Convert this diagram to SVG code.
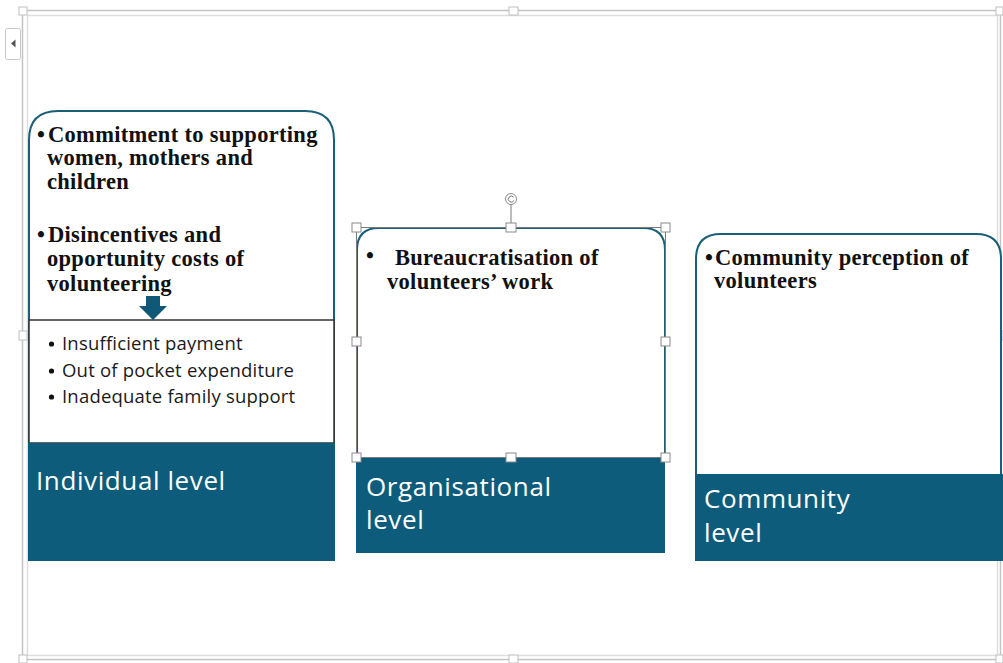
<svg xmlns="http://www.w3.org/2000/svg" width="1003" height="663" viewBox="0 0 1003 663">
  <style>
    .frame { fill: none; stroke: #c4c4c4; stroke-width: 1.5; }
    .frame2 { fill: none; stroke: #dedede; stroke-width: 1.5; }
    .card { fill: #ffffff; stroke: #1a5e78; stroke-width: 2; }
    .band { fill: #0d5c7b; }
    .band-text { font-family: "Open Sans", "Liberation Sans", sans-serif; font-size: 26px; letter-spacing: 0.6px; fill: #ffffff; }
    .head { font-family: "Liberation Serif", "Times New Roman", serif; font-size: 22.5px; letter-spacing: 0.3px; font-weight: bold; fill: #111111; }
    .list { font-family: "Open Sans", "Liberation Sans", sans-serif; font-size: 18.5px; letter-spacing: 0.2px; fill: #1a1a1a; }
    .dot { fill: #111111; }
    .handle { fill: #ffffff; stroke: #8a8a8a; stroke-width: 1; }
    .fhandle { fill: #ffffff; stroke: #c0c0c0; stroke-width: 1; }
  </style>

  <rect width="1003" height="663" fill="#ffffff"/>

  <!-- canvas frame -->
  <g id="frame">
    <rect class="frame" x="22.5" y="10.5" width="978" height="649"/>
    <rect class="frame2" x="27.5" y="15.5" width="970" height="640"/>
    <rect class="fhandle" x="19" y="7" width="8" height="8"/>
    <rect class="fhandle" x="509" y="7" width="9" height="8"/>
    <rect class="fhandle" x="996" y="7" width="7" height="8"/>
    <rect class="fhandle" x="19" y="331" width="8" height="9"/>
    <rect class="fhandle" x="996" y="331" width="7" height="9"/>
    <rect class="fhandle" x="19" y="655" width="8" height="8"/>
    <rect class="fhandle" x="509" y="655" width="9" height="8"/>
    <rect class="fhandle" x="996" y="655" width="7" height="8"/>
    <!-- collapse tab -->
    <rect x="5.5" y="28.5" width="15" height="31" rx="2" fill="#ffffff" stroke="#c8c8c8"/>
    <path d="M15.5 39.5 L11 43.5 L15.5 47.5 Z" fill="#555555"/>
  </g>

  <!-- Individual level -->
  <g id="individual">
    <path class="card" d="M29 443 V140 Q29 111 58 111 H305 Q334 111 334 140 V443"/>
    <rect x="29" y="320" width="305" height="123" fill="#ffffff" stroke="#333333" stroke-width="1.5"/>
    <rect class="band" x="28" y="443" width="307" height="118"/>
    <text class="head">
      <tspan x="37" y="142">•</tspan><tspan x="48" y="142">Commitment to supporting</tspan>
      <tspan x="47" y="165">women, mothers and</tspan>
      <tspan x="47" y="189">children</tspan>
      <tspan x="37" y="242">•</tspan><tspan x="48" y="242">Disincentives and</tspan>
      <tspan x="47" y="266">opportunity costs of</tspan>
      <tspan x="47" y="291">volunteering</tspan>
    </text>
    <path d="M146 296 H160 V306 H167 L153 320 L139 306 H146 Z" fill="#0f5877"/>
    <circle class="dot" cx="51.5" cy="344" r="2.6"/>
    <circle class="dot" cx="51.5" cy="371" r="2.6"/>
    <circle class="dot" cx="51.5" cy="397" r="2.6"/>
    <text class="list">
      <tspan x="62" y="350">Insufficient payment</tspan>
      <tspan x="62" y="377">Out of pocket expenditure</tspan>
      <tspan x="62" y="403">Inadequate family support</tspan>
    </text>
    <text class="band-text" x="36" y="490">Individual level</text>
  </g>

  <!-- Organisational level -->
  <g id="organisational">
    <path class="card" d="M357 458 V250 Q357 228 379 228 H643 Q665 228 665 250 V458"/>
    <rect class="band" x="356" y="458" width="309" height="95"/>
    <text class="head">
      <tspan x="366" y="263">•</tspan><tspan x="395" y="265">Bureaucratisation of</tspan>
      <tspan x="387" y="289">volunteers’ work</tspan>
    </text>
    <text class="band-text" x="366" y="496">Organisational</text>
    <text class="band-text" x="366" y="529">level</text>
    <!-- selection handles -->
    <rect class="frame" x="356.5" y="227.5" width="309" height="230" style="stroke:#7a7a7a;stroke-width:1"/>
    <line x1="511" y1="205" x2="511" y2="227" stroke="#7a7a7a"/>
    <circle cx="511" cy="199" r="5.5" fill="#ffffff" stroke="#8a8a8a"/>
    <path d="M513.5 197 A3 3 0 1 0 514 200.5" fill="none" stroke="#777777" stroke-width="1"/>
    <rect class="handle" x="352" y="223" width="9" height="9"/>
    <rect class="handle" x="506" y="223" width="10" height="9"/>
    <rect class="handle" x="661" y="223" width="9" height="9"/>
    <rect class="handle" x="352" y="337" width="9" height="9"/>
    <rect class="handle" x="661" y="337" width="9" height="9"/>
    <rect class="handle" x="352" y="453" width="9" height="9"/>
    <rect class="handle" x="506" y="453" width="10" height="9"/>
    <rect class="handle" x="661" y="453" width="9" height="9"/>
  </g>

  <!-- Community level -->
  <g id="community">
    <path class="card" d="M696 474 V259 Q696 234 721 234 H976 Q1001 234 1001 259 V474"/>
    <rect class="band" x="695" y="474" width="308" height="87"/>
    <text class="head">
      <tspan x="705" y="265">•</tspan><tspan x="715" y="265">Community perception of</tspan>
      <tspan x="714" y="288">volunteers</tspan>
    </text>
    <text class="band-text" x="704" y="508">Community</text>
    <text class="band-text" x="704" y="542">level</text>
  </g>

  <g id="connectors"></g>
</svg>
